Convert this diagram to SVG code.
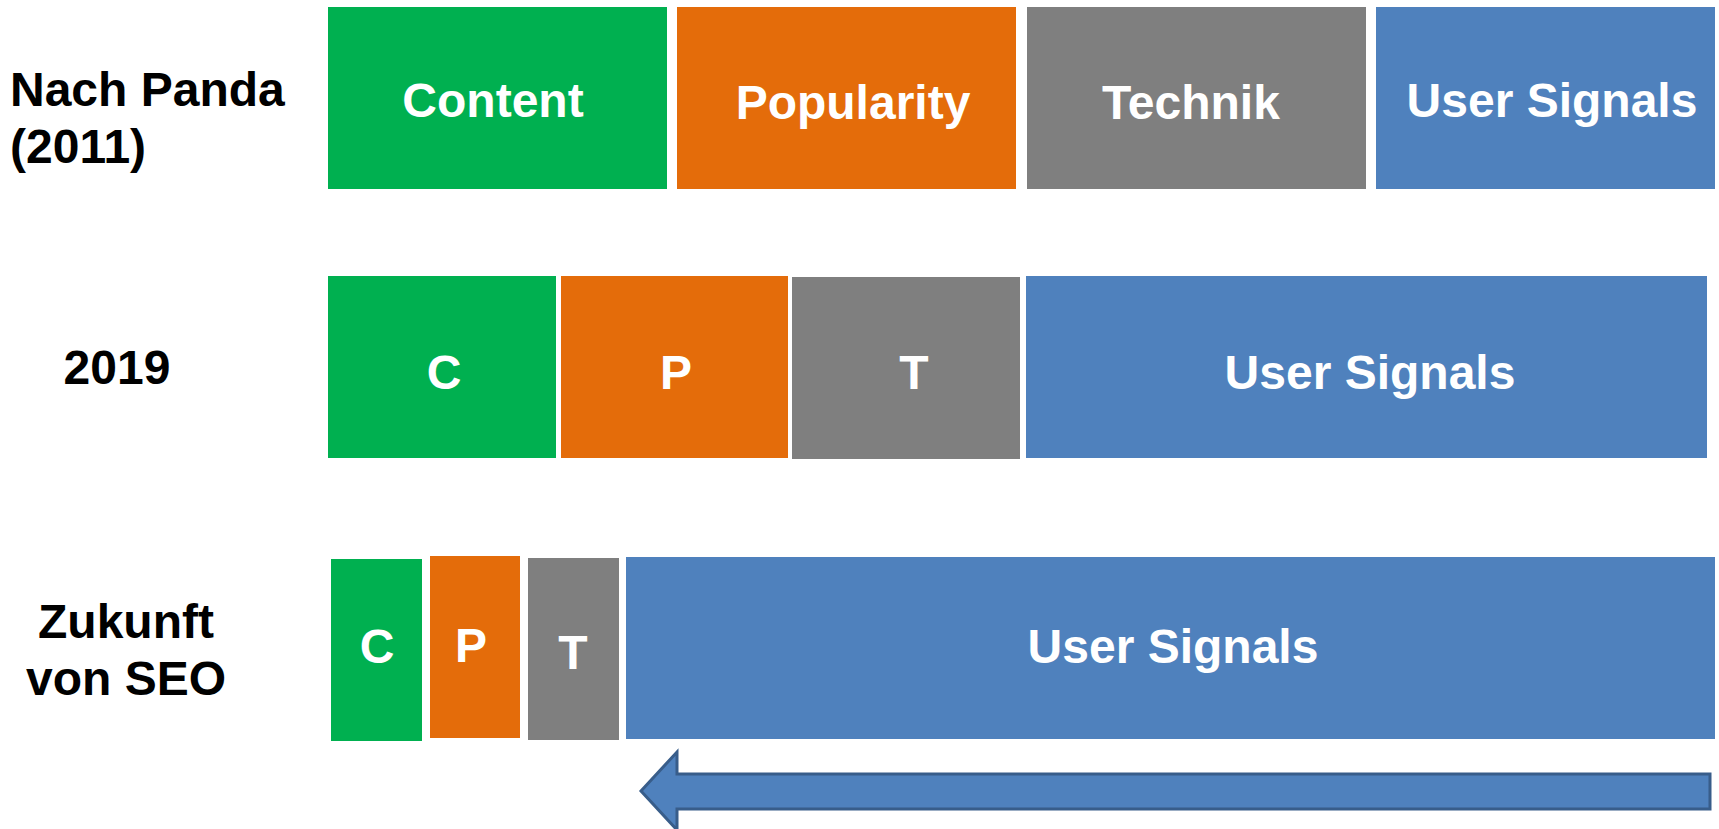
<svg xmlns="http://www.w3.org/2000/svg" width="1719" height="829" viewBox="0 0 1719 829">
<style>
text{font-family:"Liberation Sans",Arial,sans-serif;font-weight:bold;font-size:48px}
.w{fill:#ffffff;text-anchor:middle}
.k{fill:#000000}
.g{fill:#00b050}
.o{fill:#e46c0a}
.t{fill:#7f7f7f}
.b{fill:#4f81bd}
</style>
<g id="labels">
<text class="k" x="10" y="106">Nach Panda</text>
<text class="k" x="10" y="163">(2011)</text>
<text class="k" x="117" y="384" text-anchor="middle">2019</text>
<text class="k" x="126" y="638" text-anchor="middle">Zukunft</text>
<text class="k" x="126" y="695" text-anchor="middle">von SEO</text>
</g>
<g id="row1-content"><rect class="g" x="328" y="7" width="339" height="182"/><text class="w" x="493" y="117">Content</text></g>
<g id="row1-popularity"><rect class="o" x="677" y="7" width="339" height="182"/><text class="w" x="853" y="119">Popularity</text></g>
<g id="row1-technik"><rect class="t" x="1027" y="7" width="339" height="182"/><text class="w" x="1191" y="119">Technik</text></g>
<g id="row1-user"><rect class="b" x="1376" y="7" width="339" height="182"/><text class="w" x="1552" y="117">User Signals</text></g>
<g id="row2-c"><rect class="g" x="328" y="276" width="228" height="182"/><text class="w" x="444" y="389">C</text></g>
<g id="row2-p"><rect class="o" x="561" y="276" width="227" height="182"/><text class="w" x="676" y="389">P</text></g>
<g id="row2-t"><rect class="t" x="792" y="277" width="228" height="182"/><text class="w" x="914" y="389">T</text></g>
<g id="row2-user"><rect class="b" x="1026" y="276" width="681" height="182"/><text class="w" x="1370" y="389">User Signals</text></g>
<g id="row3-c"><rect class="g" x="331" y="559" width="91" height="182"/><text class="w" x="377" y="663">C</text></g>
<g id="row3-p"><rect class="o" x="430" y="556" width="90" height="182"/><text class="w" x="471" y="662">P</text></g>
<g id="row3-t"><rect class="t" x="528" y="558" width="91" height="182"/><text class="w" x="573" y="669">T</text></g>
<g id="row3-user"><rect class="b" x="626" y="557" width="1089" height="182"/><text class="w" x="1173" y="663">User Signals</text></g>
<g id="connectors">
<path d="M1710 774 L677 774 L677 752 L641 791 L677 830 L677 809 L1710 809 Z" fill="#4f81bd" stroke="#385d8a" stroke-width="3" stroke-linejoin="miter"/>
</g>
</svg>
